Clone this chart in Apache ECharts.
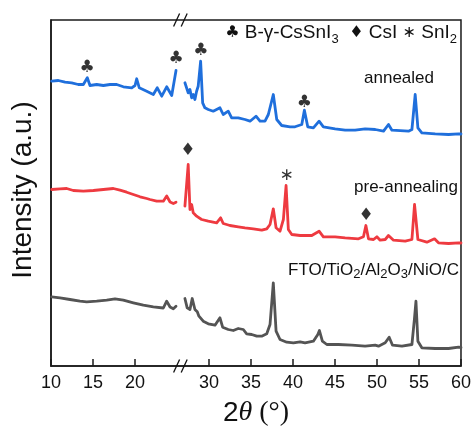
<!DOCTYPE html>
<html>
<head>
<meta charset="utf-8">
<script src="https://cdn.jsdelivr.net/npm/echarts@6/dist/echarts.min.js"></script>
<style>html,body{margin:0;padding:0;background:#fff;}#c{width:474px;height:436px;}</style>
</head>
<body>
<div id="c"></div>
<script>
// ---- data (2theta in degrees, intensity in arbitrary stacked units) ----
const tickLabels = [10, 15, 20, 30, 35, 40, 45, 50, 55, 60];

const annealedTheta = [10.08,10.87,11.67,12.46,13.25,13.85,14.32,14.64,15.44,16.23,17.02,17.82,18.61,19.61,20.0,20.2,20.51,21.39,22.18,22.65,23.18,23.77,24.37,24.88,
  27.14,27.53,27.74,27.94,28.13,28.33,28.53,28.72,29.01,29.25,29.52,29.92,30.51,31.31,31.7,32.3,32.7,33.49,34.29,34.89,35.6,36.08,36.67,37.07,37.66,38.07,38.66,39.65,40.25,41.05,41.36,41.76,42.43,43.11,43.62,45.02,46.21,47.4,48.59,49.79,50.78,51.37,51.78,53.75,54.16,54.55,54.87,55.34,56.93,58.52,59.71,60];
const annealedI = [284.8,285.5,283.8,283.2,281.5,281.5,288.2,280.5,281.5,280.5,281.5,281.5,279.2,278.2,280.5,287.2,278.2,274.8,271.5,278.2,269.8,279.2,270.5,295.5,
  283.2,273.2,276.5,268.2,271.5,266.5,274.8,279.8,304.8,263.2,258.2,256.5,254.8,258.2,251.5,254.8,248.2,248.2,246.5,244.8,249.8,244.8,244.8,251.5,271.5,246.5,240.5,239.2,239.2,241.5,255.8,239.2,238.2,244.8,239.2,237.2,235.8,235.8,237.2,236.5,234.8,241.5,235.8,234.8,236.5,271.5,238.2,233.2,232.2,231.5,232.2,232];

const preTheta = [10.08,11.07,11.87,12.65,13.85,15.04,16.23,17.42,18.21,19.01,19.8,20.6,21.39,21.79,22.58,23.37,23.77,24.17,24.56,24.88,
  27.14,27.53,27.74,27.94,28.13,28.53,29.13,29.92,30.92,31.39,31.7,32.5,33.49,34.29,35.28,36.28,36.88,37.27,37.66,37.99,38.46,38.86,39.18,39.45,39.86,40.85,41.44,42.24,43.11,43.62,45.02,46.21,47.8,48.39,48.68,48.99,49.59,49.99,50.38,50.98,51.37,51.97,53.36,54.16,54.47,54.87,55.94,56.85,57.32,58.52,59.71,60];
const preI = [176.5,177.2,177.5,175.5,174.8,175.5,176.5,177.5,175.8,173.8,171.5,169.2,167.5,166.5,164.8,164.8,170,164,162.5,163.8,
  159.8,201.5,156.5,161.5,153.2,149.8,146.5,144.8,143.2,148.2,142.5,140.5,139.2,138.2,137.2,135.8,137.2,141.5,157.2,138.2,134.8,146.5,180.5,136.5,131.5,130.5,130.5,130.5,134.8,129.2,129.2,128.2,127.2,129.2,140.5,127.2,126.5,129.2,125.8,126.5,130.5,125.8,124.8,126.5,161.5,126.5,123.8,127.2,123.2,122.5,123.2,123];

const substrateTheta = [10.08,11.07,12.26,13.45,14.25,15.44,16.63,17.62,18.61,19.8,20.99,22.18,23.37,23.77,24.17,24.56,24.88,
  27.14,27.41,27.74,28.01,28.33,28.61,28.81,29.01,29.32,29.92,30.72,31.31,31.63,32.3,32.9,33.49,34.09,34.49,35.09,35.69,36.28,36.88,37.27,37.66,37.99,38.46,39.26,40.05,40.85,41.44,42.43,42.96,43.15,43.5,44.03,45.41,47.01,48.59,49.79,50.18,50.98,51.45,51.85,52.97,54.16,54.47,54.64,54.87,55.34,56.93,58.52,59.71,60];
const substrateI = [69.2,68.2,66.5,64.8,64.2,64.8,65.8,67.2,65.8,63.2,60.8,59.2,58,64.8,59,57.2,59.8,
  67.5,58.2,56.5,67.5,56.5,54.2,49.8,51.5,44.8,42.2,40.8,48.2,38.8,36.5,35.5,37.5,36.5,32.2,31.5,29.8,29.8,32.2,41.5,83.2,34.8,26.5,23.8,23.2,24.2,23.2,24.8,31.5,35.5,24.8,21.5,21.5,20.8,19.8,20.8,19.8,23.2,28.8,20.8,19.8,21.5,48.2,64.8,24.8,18.2,17.5,17.5,18.8,18.5];

const markSymbols = ['♣', '♣', '♣', '♣', '♦', '∗', '♦'];
const markTheta   = [14.3, 24.88, 29.05, 41.35, 27.5, 39.25, 48.7];
const markI       = [298.5, 307.5, 315.5, 263.5, 215.5, 190, 150.5];

// ---- broken axis: the 25.4–26.6 span is cut out ----
const BREAK = 25.4, SHIFT = 1.2;
const toAxis = t => (t > BREAK ? t - SHIFT : t);
const fromAxis = v => (v > BREAK ? Math.round(v + SHIFT) : Math.round(v));

function build(theta, vals) {
  const out = [];
  for (let i = 0; i < theta.length; i++) {
    if (i > 0 && theta[i - 1] < BREAK && theta[i] > BREAK) out.push([BREAK, null]);
    out.push([toAxis(theta[i]), vals[i]]);
  }
  return out;
}

const FONT = "'Liberation Sans', Arial, sans-serif";
const chart = echarts.init(document.getElementById('c'), null, {renderer: 'canvas'});
const tickPos = tickLabels.map(toAxis);

const line = (name, color, theta, vals) => ({
  name, type: 'line', data: build(theta, vals), showSymbol: false, symbol: 'none',
  connectNulls: false, lineStyle: {color, width: 2.8, join: 'round', cap: 'round'}, itemStyle: {color}, silent: true, z: 3
});

chart.setOption({
  animation: false,
  backgroundColor: '#fff',
  grid: {left: 51, right: 13, top: 20, bottom: 70, show: true, borderColor: '#1a1a1a', borderWidth: 1.5, backgroundColor: 'transparent'},
  xAxis: {
    type: 'value', min: 10, max: 60 - SHIFT,
    axisLine: {show: true, lineStyle: {color: '#1a1a1a', width: 1.5}},
    axisTick: {show: true, inside: true, length: 7, customValues: tickPos, lineStyle: {color: '#1a1a1a', width: 1.5}},
    axisLabel: {show: true, customValues: tickPos, margin: 8, fontSize: 18, color: '#111', fontFamily: FONT,
      formatter: v => String(fromAxis(v))},
    splitLine: {show: false}
  },
  yAxis: {
    type: 'value', min: 0, max: 346,
    axisLine: {show: true, lineStyle: {color: '#1a1a1a', width: 1.5}},
    axisTick: {show: false}, axisLabel: {show: false}, splitLine: {show: false}
  },
  series: [
    line('substrate', '#545454', substrateTheta, substrateI),
    line('pre-annealing', '#ee3a40', preTheta, preI),
    line('annealed', '#1f6fdc', annealedTheta, annealedI),
    {
      type: 'scatter', symbol: 'circle', symbolSize: 1, silent: true, z: 5,
      itemStyle: {color: 'rgba(0,0,0,0)'},
      data: markSymbols.map((s, i) => ({name: s, value: [toAxis(markTheta[i]), markI[i]]})),
      label: {show: true, position: 'inside', formatter: '{b}', fontSize: 17, color: '#000', fontFamily: 'DejaVu Sans'}
    }
  ]
});

// ---- text & break marks ----
const p0 = chart.convertToPixel({gridIndex: 0}, [BREAK, 0]);
const p1 = chart.convertToPixel({gridIndex: 0}, [BREAK, 346]);
const bx = p0[0];
function slashes(y) {
  return [-3.8, 3.8].map(dx => ({
    type: 'line', z: 20,
    shape: {x1: bx + dx - 3, y1: y + 6.5, x2: bx + dx + 3, y2: y - 6.5},
    style: {stroke: '#111', lineWidth: 1.3}
  }));
}
const sub = {fontSize: 13, lineHeight: 12, verticalAlign: 'bottom', fontFamily: FONT, fill: '#111'};
chart.setOption({
  graphic: [
    ...slashes(p0[1]), ...slashes(p1[1]),
    {type: 'text', x: 457, y: 33, z: 20, style: {
      text: '{s|♣} B-γ-CsSnI{sub|3}  {s|♦} CsI {s|∗} SnI{sub|2}',
      align: 'right', verticalAlign: 'middle', font: '19px ' + FONT, fill: '#111', lineHeight: 25,
      rich: {s: {fontSize: 16, fontFamily: 'DejaVu Sans', lineHeight: 25, fill: '#111'}, sub: sub}
    }},
    {type: 'text', x: 434, y: 78, z: 20, style: {text: 'annealed', align: 'right', verticalAlign: 'middle', font: '17px ' + FONT, fill: '#111'}},
    {type: 'text', x: 458, y: 187, z: 20, style: {text: 'pre-annealing', align: 'right', verticalAlign: 'middle', font: '17px ' + FONT, fill: '#111'}},
    {type: 'text', x: 459, y: 270, z: 20, style: {
      text: 'FTO/TiO{sub|2}/Al{sub|2}O{sub|3}/NiO/C', align: 'right', verticalAlign: 'middle',
      font: '17px ' + FONT, fill: '#111', lineHeight: 22, rich: {sub: sub}
    }},
    {type: 'text', x: 23, y: 190, rotation: Math.PI / 2, z: 20, style: {
      text: 'Intensity (a.u.)', align: 'center', verticalAlign: 'middle', font: '28px ' + FONT, fill: '#111'
    }},
    {type: 'text', x: 256, y: 413, z: 20, style: {
      text: '{n|2}{t|θ}{p| (°)}', align: 'center', verticalAlign: 'middle', fill: '#111',
      rich: {
        n: {fontSize: 28, fontFamily: FONT, fill: '#111'},
        t: {fontSize: 28, fontFamily: "'Liberation Serif', serif", fontStyle: 'italic', fill: '#111'},
        p: {fontSize: 28, fontFamily: "'Liberation Serif', serif", fill: '#111'}
      }
    }}
  ]
});
</script>
</body>
</html>
